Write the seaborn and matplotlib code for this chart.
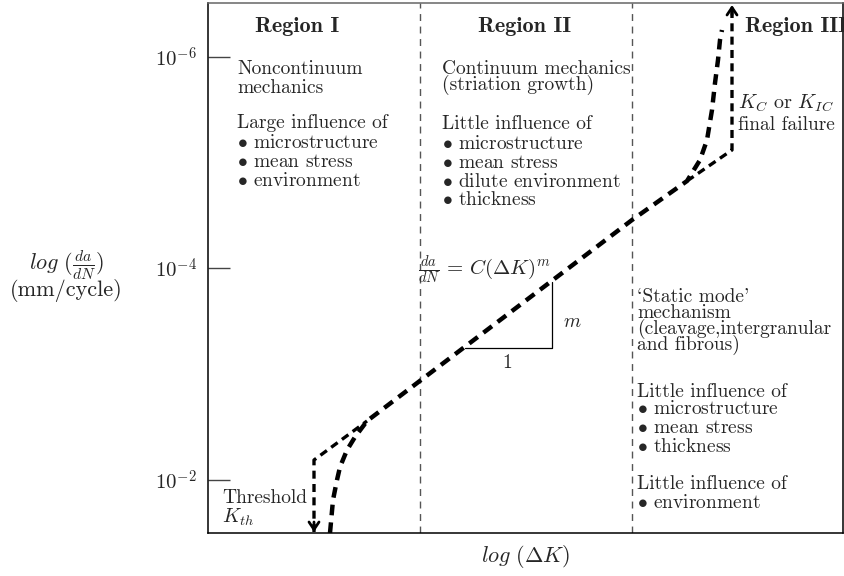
import matplotlib
matplotlib.use('Agg')
import matplotlib.pyplot as plt
import seaborn as sns
import pandas as pd

sns.set_theme(style='white')
plt.rcParams['font.family'] = ['cmr10', 'DejaVu Serif']
plt.rcParams['mathtext.fontset'] = 'cm'
plt.rcParams['axes.unicode_minus'] = False

# ---------------- data (schematic units) ----------------
tick_pos = [476, 265, 53]
tick_labels = [r'$10^{-6}$', r'$10^{-4}$', r'$10^{-2}$']
region_bounds = [212, 424]

# actual crack-growth curve
curve_x = [122, 125, 129, 132, 139, 147, 159, 424, 479, 492, 499, 504, 507, 510, 512, 514]
curve_y = [0, 33, 53, 66, 83, 96, 112, 313, 352, 373, 393, 423, 450, 473, 493, 503]

# idealised (broken-line) limits: threshold and final failure
thresh_x = [106, 106, 159]
thresh_y = [1, 73, 112]
fail_x = [479, 524, 524]
fail_y = [352, 383, 528]

# slope triangle
tri_x = [257, 344, 344]
tri_y = [185, 185, 251]

region_titles = ['Region I', 'Region II', 'Region III']
region1_lines = ['Noncontinuum', 'mechanics', 'Large influence of',
                 r'$\bullet$ microstructure', r'$\bullet$ mean stress', r'$\bullet$ environment']
region2_lines = ['Continuum mechanics', '(striation growth)', 'Little influence of',
                 r'$\bullet$ microstructure', r'$\bullet$ mean stress',
                 r'$\bullet$ dilute environment', r'$\bullet$ thickness']
region3_lines = ["`Static mode'", 'mechanism', '(cleavage,intergranular', 'and fibrous)',
                 'Little influence of', r'$\bullet$ microstructure', r'$\bullet$ mean stress',
                 r'$\bullet$ thickness', 'Little influence of', r'$\bullet$ environment']

# ---------------- figure ----------------
W, H = 844, 576
fig = plt.figure(figsize=(W / 100, H / 100), dpi=100)
ax = fig.add_axes([208 / W, 43 / H, 635 / W, 530 / H])
ax.set_xlim(0, 635)
ax.set_ylim(0, 530)

def px(x, y):
    return x - 208, 533 - y

FS = 14

# region boundaries
for b in region_bounds:
    ax.plot([b, b], [0, 530], color='#555555', lw=1.0, linestyle=(0, (5, 4)))

# curves
dash = (0, (2.4, 1.6))
df_c = pd.DataFrame({'x': curve_x, 'y': curve_y})
sns.lineplot(data=df_c, x='x', y='y', sort=False, estimator=None, ax=ax,
             color='black', lw=3.2, linestyle=dash)
df_t = pd.DataFrame({'x': thresh_x, 'y': thresh_y})
sns.lineplot(data=df_t, x='x', y='y', sort=False, estimator=None, ax=ax,
             color='black', lw=2.4, linestyle=dash)
df_f = pd.DataFrame({'x': fail_x, 'y': fail_y})
sns.lineplot(data=df_f, x='x', y='y', sort=False, estimator=None, ax=ax,
             color='black', lw=2.4, linestyle=dash)

# arrowheads
ap = dict(arrowstyle='->,head_length=0.45,head_width=0.3', lw=2.0, color='black',
          shrinkA=0, shrinkB=0)
ax.annotate('', xy=(thresh_x[0], thresh_y[0]), xytext=(thresh_x[0], thresh_y[0] + 10), arrowprops=ap)
ax.annotate('', xy=(fail_x[-1], fail_y[-1]), xytext=(fail_x[-1], fail_y[-1] - 10), arrowprops=ap)

# slope triangle
ax.plot(tri_x, tri_y, color='black', lw=0.9)

# texts
def T(x, y, s, **kw):
    kw.setdefault('fontsize', FS)
    kw.setdefault('va', 'center')
    ax.text(*px(x, y), s, clip_on=False, **kw)

bold = ['cmb10', 'DejaVu Serif']
T(297, 27, region_titles[0], ha='center', family=bold, fontsize=16)
T(525, 27, region_titles[1], ha='center', family=bold, fontsize=16)
T(745, 27, region_titles[2], ha='left', family=bold, fontsize=16)

for s, y in zip(region1_lines, [69, 88, 123, 143, 162, 181]):
    T(237, y, s)
for s, y in zip(region2_lines, [69, 85, 124, 144, 163, 182, 200]):
    T(442, y, s)
for s, y in zip(region3_lines, [297, 313, 329, 345, 392, 409, 428, 447, 484, 503]):
    T(637, y, s)

T(738, 103, r'$K_C$ or $K_{IC}$', fontsize=14.5)
T(738, 125, 'final failure')
T(222, 498, 'Threshold')
T(222, 517, r'$K_{th}$', fontsize=14.5)

T(418, 270, r'$\frac{da}{dN}\,=\,C(\Delta K)^m$', fontsize=15)
T(563, 322, r'$m$')
T(507, 363, '1', ha='center')

# axes styling
for s in ['left', 'bottom', 'right', 'top']:
    ax.spines[s].set_visible(True)
    ax.spines[s].set_color('black')
    ax.spines[s].set_linewidth(1.1)
ax.spines['top'].set_color('#666666')
ax.set_xticks([])
ax.set_yticks(tick_pos)
ax.set_yticklabels(tick_labels, fontsize=15)
ax.tick_params(axis='y', direction='in', length=16, width=1.0, color='#444444',
               left=True, pad=8)
ax.set_xlabel('')
ax.set_ylabel('')

fig.text(525 / W, 1 - 556 / H, r'$log\ (\Delta K)$', fontsize=16, ha='center', va='center')
fig.text(66 / W, 1 - 265 / H, r'$log\ (\frac{da}{dN})$', fontsize=16, ha='center', va='center')
fig.text(66 / W, 1 - 291 / H, '(mm/cycle)', fontsize=16, ha='center', va='center')

fig.savefig('out.png', dpi=100)
